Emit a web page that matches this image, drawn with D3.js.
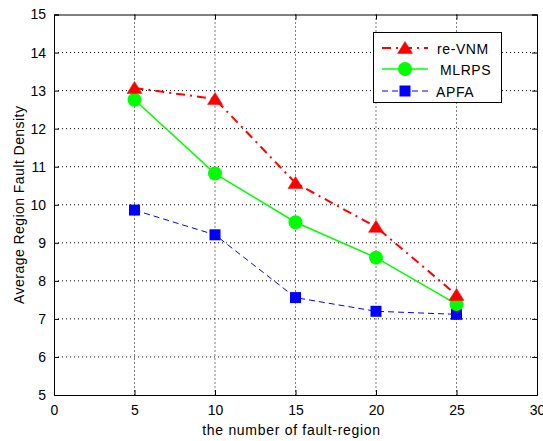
<!DOCTYPE html>
<html><head><meta charset="utf-8">
<script src="https://cdn.jsdelivr.net/npm/d3@7"></script>
<style>body{margin:0;background:#fff}svg{display:block}text{font-family:"Liberation Sans",Arial,sans-serif}</style>
</head><body><svg id="c" width="543" height="441"></svg>
<script>
const xValues = [5, 10, 15, 20, 25];
const reVNM = [13.07, 12.78, 10.57, 9.42, 7.63];
const MLRPS = [12.76, 10.82, 9.54, 8.61, 7.39];
const APFA  = [9.86, 9.21, 7.56, 7.2, 7.12];
const xTicks = [0, 5, 10, 15, 20, 25, 30];
const yTicks = [5, 6, 7, 8, 9, 10, 11, 12, 13, 14, 15];
const seriesNames = ["re-VNM", "MLRPS", "APFA"];

const svg = d3.select("#c");
const L = 54, R = 537, T = 14.5, B = 395;
const x = d3.scaleLinear().domain([0, 30]).range([L, R]);
const y = d3.scaleLinear().domain([5, 15]).range([B, T]);
const FONT = '"Liberation Sans",Arial,sans-serif';

// grid
const g = svg.append("g");
g.selectAll(".gx").data(xTicks.slice(1, -1)).enter().append("line")
  .attr("x1", d => x(d)).attr("x2", d => x(d)).attr("y1", T).attr("y2", B)
  .attr("stroke", "#000").attr("stroke-width", 1).attr("stroke-dasharray", "1,3");
g.selectAll(".gy").data(yTicks.slice(1, -1)).enter().append("line")
  .attr("y1", d => y(d)).attr("y2", d => y(d)).attr("x1", L).attr("x2", R)
  .attr("stroke", "#000").attr("stroke-width", 1).attr("stroke-dasharray", "1,3");

// axes
const ax = svg.append("g").attr("transform", `translate(0,${B})`)
  .call(d3.axisBottom(x).tickValues(xTicks).tickSize(-5).tickPadding(10));
const ay = svg.append("g").attr("transform", `translate(${L},0)`)
  .call(d3.axisLeft(y).tickValues(yTicks).tickSize(-5).tickPadding(8));
const axT = svg.append("g").attr("transform", `translate(0,${T})`)
  .call(d3.axisTop(x).tickValues(xTicks).tickSize(-5).tickFormat(""));
const ayR = svg.append("g").attr("transform", `translate(${R},0)`)
  .call(d3.axisRight(y).tickValues(yTicks).tickSize(-5).tickFormat(""));
[ax, ay, axT, ayR].forEach(a => {
  a.select(".domain").attr("stroke", "#000").attr("stroke-width", 1);
  a.selectAll(".tick line").attr("stroke", "#000");
  a.selectAll("text").attr("font-size", 14).attr("fill", "#000")
    .style("font-family", FONT);
});

// labels
svg.append("text").attr("x", (L + R) / 2 - 4).attr("y", 435).attr("text-anchor", "middle")
  .attr("font-size", 14).attr("letter-spacing", 0.7).text("the number of fault-region");
svg.append("text").attr("transform", `translate(24,${(T + B) / 2}) rotate(-90)`)
  .attr("text-anchor", "middle").attr("font-size", 14).attr("letter-spacing", 0.45)
  .text("Average Region Fault Density");

const line = d3.line().x((d, i) => x(xValues[i])).y(d => y(d));
const triType = { draw(ctx) { ctx.moveTo(0, -6.5); ctx.lineTo(7.5, 5.5); ctx.lineTo(-7.5, 5.5); ctx.closePath(); } };
const tri = d3.symbol().type(triType);

function drawTri(sel, cx, cy) {
  sel.append("path").attr("d", tri()).attr("transform", `translate(${cx},${cy})`)
    .attr("fill", "#ff0000").attr("stroke", "#ff0000").attr("stroke-width", 0.5);
}
function drawCirc(sel, cx, cy) {
  sel.append("circle").attr("cx", cx).attr("cy", cy).attr("r", 7).attr("fill", "#00ff00");
}
function drawSq(sel, cx, cy) {
  sel.append("rect").attr("x", cx - 5.5).attr("y", cy - 5.5).attr("width", 11).attr("height", 11).attr("fill", "#0000ff");
}

// APFA
svg.append("path").datum(APFA).attr("d", line).attr("fill", "none")
  .attr("stroke", "#0000ff").attr("stroke-width", 1).attr("stroke-dasharray", "6,4");
APFA.forEach((v, i) => drawSq(svg, x(xValues[i]), y(v)));
// MLRPS
svg.append("path").datum(MLRPS).attr("d", line).attr("fill", "none")
  .attr("stroke", "#00ff00").attr("stroke-width", 1.5);
MLRPS.forEach((v, i) => drawCirc(svg, x(xValues[i]), y(v)));
// re-VNM
svg.append("path").datum(reVNM).attr("d", line).attr("fill", "none")
  .attr("stroke", "#ff0000").attr("stroke-width", 2).attr("stroke-dasharray", "9,5,2,5");
reVNM.forEach((v, i) => drawTri(svg, x(xValues[i]), y(v)));

// legend
const lg = svg.append("g");
lg.append("rect").attr("x", 373.5).attr("y", 32.5).attr("width", 128).attr("height", 70)
  .attr("fill", "#fff").attr("stroke", "#000").attr("stroke-width", 1);
const ly = [48, 69, 91];
const lstyle = [
  {c: "#ff0000", w: 2, d: "9,5,2,5", f: drawTri, tx: 437},
  {c: "#00ff00", w: 1.5, d: null, f: drawCirc, tx: 440},
  {c: "#0000ff", w: 1, d: "6,4", f: drawSq, tx: 436}
];
seriesNames.forEach((n, i) => {
  const s = lstyle[i];
  const l = lg.append("line").attr("x1", 382).attr("x2", 428).attr("y1", ly[i]).attr("y2", ly[i])
    .attr("stroke", s.c).attr("stroke-width", s.w);
  if (s.d) l.attr("stroke-dasharray", s.d);
  s.f(lg, 405, ly[i]);
  lg.append("text").attr("x", s.tx).attr("y", ly[i] + 6).attr("font-size", 14)
    .attr("letter-spacing", 0.6).text(n);
});
</script></body></html>
